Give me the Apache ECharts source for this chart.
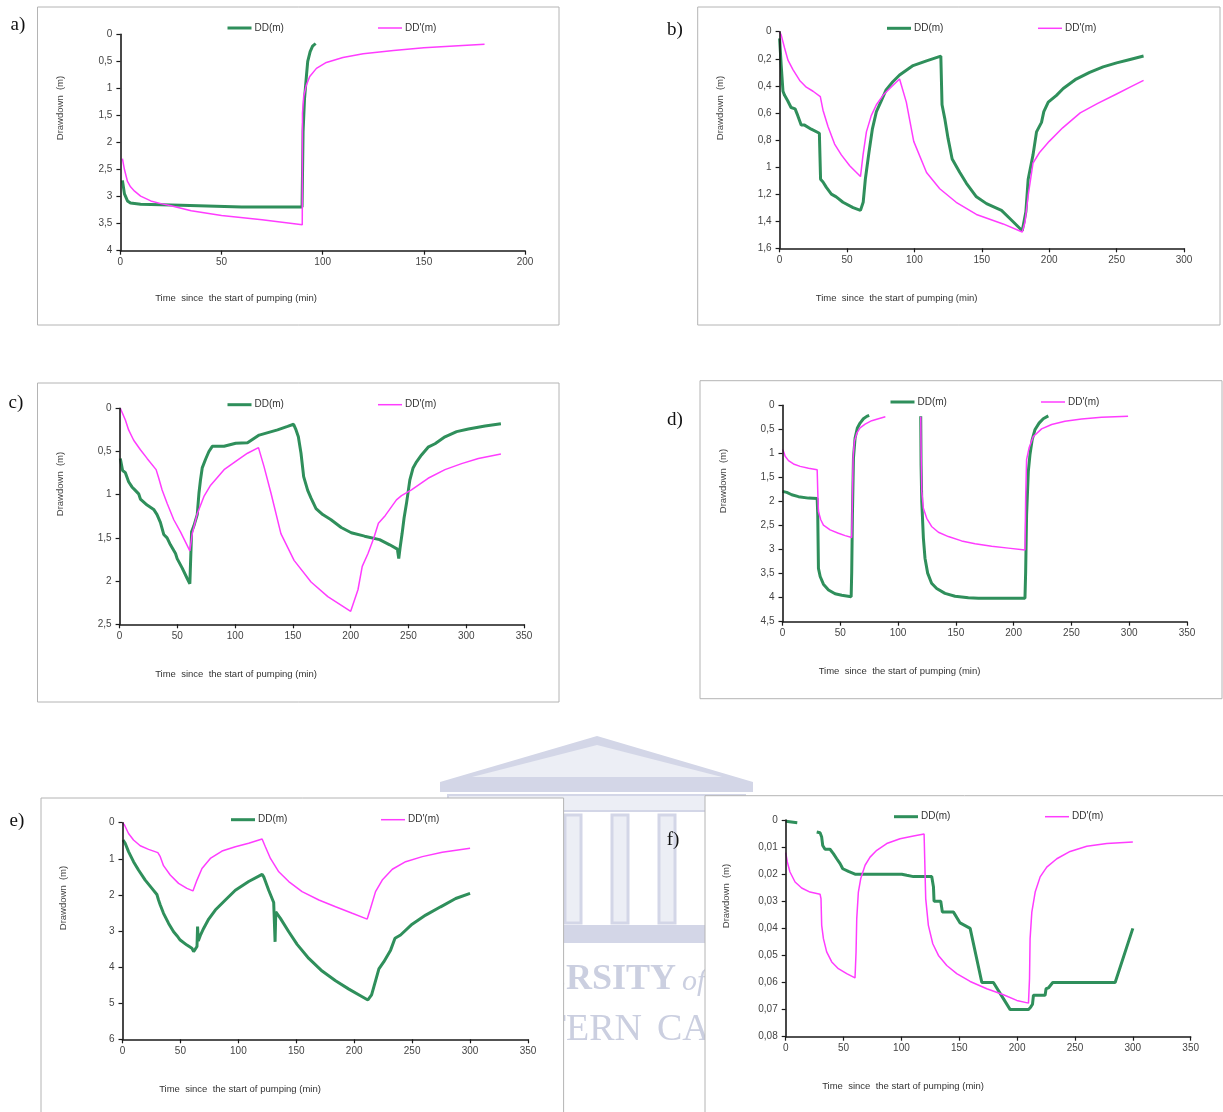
<!DOCTYPE html>
<html>
<head>
<meta charset="utf-8">
<script src="https://cdn.jsdelivr.net/npm/echarts@6/dist/echarts.min.js"></script>
<style>
html,body{margin:0;padding:0;background:#fff;}
#chart{width:1223px;height:1112px;}
</style>
</head>
<body>
<div id="chart"></div>
<script>
// ---------------- DATA ----------------
const seriesNames = ['DD(m)', "DD'(m)"];
const panelLetters = ['a)', 'b)', 'c)', 'd)', 'e)', 'f)'];
const xAxisMax = [200, 300, 350, 350, 350, 350];
const xAxisStep = [50, 50, 50, 50, 50, 50];
const yAxisMax = [4, 1.6, 2.5, 4.5, 6, 0.08];
const yAxisStep = [0.5, 0.2, 0.5, 0.5, 1, 0.01];
const yAxisTitle = 'Drawdown  (m)';
const xAxisTitle = 'Time  since  the start of pumping (min)';

const aDD = [[1,2.7],[2,2.95],[3.5,3.08],[5,3.12],[10,3.14],[30,3.16],[60,3.19],[89.8,3.19],[90.3,1.8],[91,1.2],[92,0.75],[92.6,0.5],[93.8,0.32],[95,0.22],[96.5,0.17]];
const aDDp = [[1,2.3],[2,2.5],[3.5,2.72],[5,2.82],[7,2.9],[10,2.99],[15,3.08],[20,3.13],[25,3.17],[35,3.26],[50,3.35],[70,3.43],[89.9,3.52],[90,1.46],[90.6,1.15],[91.9,0.94],[93.6,0.78],[96.9,0.63],[101.8,0.52],[110,0.43],[120,0.36],[135,0.3],[150,0.25],[167,0.21],[180,0.185]];

const bDD = [[0,0.05],[1.2,0.25],[2.5,0.44],[3.7,0.47],[6,0.51],[8.5,0.56],[11.5,0.57],[13.5,0.62],[16,0.69],[18.5,0.69],[23.5,0.72],[29.5,0.75],[30.4,1.09],[32.2,1.11],[34.7,1.15],[38.4,1.2],[42,1.22],[47,1.26],[54.5,1.3],[60,1.32],[62,1.26],[63.6,1.09],[66.3,0.89],[68.8,0.72],[71.8,0.59],[75,0.52],[79,0.43],[84,0.37],[89,0.32],[99,0.25],[109,0.215],[119.6,0.18],[120.5,0.54],[122.5,0.64],[125,0.79],[128,0.94],[133.7,1.04],[138.6,1.12],[146,1.22],[153.5,1.27],[164.6,1.32],[170.8,1.38],[180,1.47],[182.7,1.33],[184.4,1.09],[188,0.91],[190.6,0.74],[194.3,0.67],[196,0.59],[199.3,0.52],[205.4,0.47],[210.4,0.42],[220,0.35],[230,0.3],[240,0.26],[250,0.23],[260,0.205],[270,0.18]];
const bDDp = [[0,0],[1.2,0.025],[3.7,0.12],[6.2,0.21],[9.9,0.28],[14.9,0.36],[19.8,0.41],[24.8,0.44],[30.2,0.48],[32.2,0.58],[35.9,0.7],[40.8,0.83],[45.8,0.91],[52,0.99],[60,1.07],[61.9,0.91],[64.4,0.74],[68,0.62],[71.8,0.54],[76.7,0.47],[81.7,0.42],[89,0.35],[94,0.52],[99.5,0.81],[109,1.04],[118.8,1.16],[131,1.26],[146,1.35],[165.8,1.42],[180,1.48],[182,1.41],[184.4,1.21],[188,0.97],[193,0.89],[200,0.81],[210,0.71],[223,0.6],[236,0.53],[250,0.46],[260,0.41],[270,0.36]];

const cDD = [[0.6,0.58],[2,0.6],[2.6,0.72],[5,0.745],[7.8,0.85],[10.7,0.91],[13.6,0.95],[16.5,0.99],[18,1.05],[23.8,1.12],[29.5,1.17],[32.4,1.23],[35.3,1.32],[38.2,1.46],[41.1,1.5],[44,1.58],[48.4,1.68],[49.8,1.74],[54.2,1.85],[58.5,1.97],[60.8,2.03],[62,2.03],[62.3,1.43],[64.3,1.36],[67.2,1.23],[68.7,0.98],[70,0.83],[71.5,0.69],[74.4,0.59],[77.3,0.5],[80.2,0.44],[90.4,0.44],[100.5,0.405],[110.7,0.4],[120.8,0.31],[136.7,0.25],[145.4,0.21],[150.6,0.185],[152.7,0.25],[154.7,0.33],[157,0.52],[159.3,0.79],[162.8,0.95],[165.7,1.04],[170,1.16],[175.8,1.23],[183,1.29],[191.8,1.38],[200.5,1.44],[212,1.48],[225,1.52],[233.8,1.58],[240.4,1.63],[241.6,1.74],[242.7,1.62],[244.5,1.45],[246.2,1.27],[248.3,1.1],[251.2,0.83],[254,0.69],[257,0.62],[261.3,0.54],[267,0.45],[273,0.41],[281.6,0.33],[291.7,0.27],[301.9,0.24],[316.3,0.205],[330,0.18]];
const cDDp = [[0.6,0],[2,0.02],[5,0.135],[7.8,0.25],[12.2,0.37],[18,0.48],[23.8,0.58],[31.6,0.71],[33.9,0.81],[36.8,0.945],[41.1,1.1],[46.9,1.29],[52.7,1.43],[60.8,1.65],[62.9,1.45],[67.2,1.22],[73,1.02],[78.8,0.89],[90.4,0.71],[102,0.6],[110.7,0.52],[120.2,0.455],[125,0.675],[131,0.98],[139.6,1.45],[151,1.76],[165.7,2.01],[180.2,2.18],[200,2.35],[206.3,2.1],[210,1.83],[215,1.68],[220,1.5],[224,1.33],[230,1.24],[239.6,1.06],[244,1.01],[252.6,0.945],[267,0.81],[281.6,0.71],[296,0.64],[310.5,0.58],[330,0.53]];

const dDD = [[0,1.79],[3.7,1.81],[8,1.86],[13.8,1.9],[22.5,1.93],[30,1.94],[30.5,2.28],[31.1,3.39],[32.6,3.56],[35.4,3.72],[39.8,3.84],[45.5,3.92],[51.3,3.95],[59.4,3.98],[59.9,3.46],[60.5,2.28],[61.4,1.1],[62.8,0.68],[64.8,0.47],[67.1,0.37],[70,0.28],[72.9,0.23],[75,0.21],[100,'-'],[119.6,0.23],[119.9,1.24],[120.5,2.0],[121.9,2.76],[123.3,3.18],[125.6,3.49],[129,3.7],[133.4,3.81],[140.6,3.91],[149.3,3.97],[160.8,4.0],[169.5,4.01],[209.8,4.01],[210.4,3.46],[211.2,2.28],[212.7,1.375],[214.1,1.03],[216,0.72],[218.4,0.51],[222,0.37],[225.6,0.28],[230,0.22]];
const dDDp = [[0,0.92],[1.2,0.98],[2.3,1.06],[5.2,1.15],[9.5,1.22],[15.3,1.27],[22.5,1.31],[30,1.34],[30.5,1.79],[31.1,2.21],[33.1,2.38],[35.4,2.49],[41.2,2.59],[48.4,2.66],[54.2,2.71],[59.9,2.75],[60.5,1.93],[61.1,1.1],[62.2,0.75],[64.3,0.58],[67.1,0.47],[71.5,0.39],[77.2,0.32],[83,0.28],[89,0.24],[100,'-'],[119.6,0.24],[119.9,0.89],[120.5,1.79],[121.9,2.14],[124.8,2.35],[129,2.52],[134.9,2.64],[143.5,2.73],[155,2.82],[166.6,2.88],[181,2.93],[195.4,2.97],[209.8,3.01],[210.4,1.93],[211.2,1.13],[213.3,0.89],[217,0.65],[224.2,0.49],[232.9,0.4],[244.4,0.33],[258.8,0.285],[276,0.25],[299,0.23]];

const eDD = [[0.5,0.48],[2.3,0.57],[5.2,0.8],[9.5,1.08],[13.8,1.31],[19.6,1.59],[25.4,1.82],[29.7,1.99],[31.1,2.14],[32.6,2.28],[35.4,2.51],[39.8,2.79],[44.1,3.02],[47,3.13],[49.8,3.25],[55.6,3.39],[59.9,3.48],[61.4,3.57],[62.8,3.53],[64.3,3.43],[64.8,2.88],[65.4,3.28],[67.1,3.13],[70,2.93],[74.4,2.67],[80.1,2.42],[88.8,2.14],[97.4,1.87],[108.9,1.63],[120.5,1.43],[121.9,1.5],[126.2,1.87],[130.5,2.21],[131.7,3.3],[132.3,2.47],[133.4,2.47],[136.3,2.65],[143.5,3.02],[150.7,3.37],[160.8,3.76],[172.3,4.11],[183.9,4.38],[195.4,4.61],[206.9,4.82],[211.8,4.91],[215,4.77],[217,4.54],[221.3,4.05],[225.6,3.85],[231.4,3.53],[235.2,3.2],[240,3.11],[250,2.81],[261.7,2.56],[274.6,2.33],[287.6,2.1],[300,1.96]];
const eDDp = [[0,0],[1.7,0.065],[5.2,0.3],[9.5,0.48],[15.3,0.64],[22.5,0.74],[30.5,0.83],[32.6,0.94],[35.4,1.19],[41.2,1.45],[48.4,1.68],[55.6,1.82],[60.8,1.89],[64.3,1.59],[68.6,1.27],[75.8,0.99],[85.9,0.785],[97.4,0.665],[108.9,0.57],[120.5,0.45],[123.3,0.665],[127.7,0.99],[134.9,1.36],[143.5,1.63],[155,1.91],[169.5,2.14],[183.9,2.33],[198.3,2.51],[211.2,2.67],[214.1,2.37],[218.4,1.91],[224.2,1.59],[232.9,1.29],[244.4,1.08],[258.8,0.94],[276,0.82],[300,0.71]];

const fDD = [[0,0.0005],[1.5,0.001],[10,0.001],[18,'-'],[26.8,0.0044],[29.7,0.0047],[31.1,0.0063],[32,0.0094],[34,0.0108],[38.3,0.0108],[41.2,0.0124],[44.1,0.0143],[47,0.0161],[49.3,0.018],[54.2,0.019],[59.9,0.02],[100.3,0.02],[104.6,0.0204],[110.4,0.0209],[126.2,0.0209],[127.7,0.0247],[128.2,0.03],[134,0.03],[135.4,0.034],[145,0.034],[150.7,0.038],[159.4,0.04],[169.5,0.06],[179.5,0.06],[185.3,0.064],[194,0.07],[209.8,0.07],[211.8,0.069],[213.3,0.068],[214.1,0.0647],[224.2,0.0647],[225,0.0623],[227,0.062],[230.8,0.06],[284.7,0.06],[300,0.04]];
const fDDp = [[0,0.012],[1.4,0.0155],[3.7,0.0192],[8.1,0.0229],[13.8,0.0251],[21,0.0266],[29.7,0.0274],[30.5,0.029],[31.1,0.0389],[32.6,0.0438],[35.4,0.0487],[39.8,0.0524],[45.5,0.0549],[52.7,0.0567],[59.9,0.0583],[60.8,0.0487],[61.4,0.0364],[62.8,0.0266],[64.8,0.0217],[68.6,0.0167],[72.9,0.0137],[78.7,0.0112],[87.3,0.0087],[98.8,0.0069],[110.4,0.0059],[119.6,0.0052],[120.2,0.0155],[121,0.029],[123.3,0.0389],[127.1,0.0457],[132,0.05],[139.2,0.0537],[147.8,0.0567],[159.4,0.0596],[173.8,0.0623],[188.2,0.0645],[199.7,0.0666],[209.8,0.0676],[210.7,0.0586],[211.2,0.0438],[212.7,0.034],[215.6,0.0266],[219.9,0.021],[225.6,0.0174],[234.3,0.0143],[245.8,0.0116],[260.2,0.0097],[277.5,0.0087],[300,0.0081]];

const ddSeries = [aDD, bDD, cDD, dDD, eDD, fDD];
const ddpSeries = [aDDp, bDDp, cDDp, dDDp, eDDp, fDDp];

// ---------------- LAYOUT (pixels) ----------------
const GREEN = '#2f8f5b', PINK = '#ff3cff';
const FONT = 'Liberation Sans, Arial, sans-serif';
const SERIF = 'Liberation Serif, Times New Roman, serif';
const layout = [
  {box:[37.5,7,521.5,318],  grid:[120.4,34.3,404.6,216.4], letter:[18,25],  yT:[60,108],   xT:[236,298],   leg:[227.5,378,29]},
  {box:[697.7,7,522.3,318], grid:[779.6,31.7,404.4,216.6], letter:[675,30], yT:[720,108],  xT:[896.6,298], leg:[887,1038,29.3]},
  {box:[37.5,383,521.5,319],grid:[119.6,408.3,404.4,216],  letter:[16,403], yT:[60,484],   xT:[236,674],   leg:[227.5,378,405.7]},
  {box:[700,380.7,522,318], grid:[782.5,405.3,404.5,216.4],letter:[675,420],yT:[723,481],  xT:[899.5,671], leg:[890.5,1041,403]},
  {box:[41,798,522.6,340],  grid:[122.5,822.7,405.5,216.6],letter:[17,821], yT:[63.6,898], xT:[240,1089],  leg:[231,381,820.7]},
  {box:[705,795.7,540,340], grid:[785.7,820,405,216.7],    letter:[673,840],yT:[726.4,896],xT:[903,1086],  leg:[894,1045,817.7]}
];

const fmt = v => (v === 0 ? '0' : String(+v.toFixed(4)).replace('.', ','));

const grids = [], xAxes = [], yAxes = [], series = [], legends = [], graphics = [];

// watermark (faint logo)
const WM = '#d3d6e7', WM2 = '#eceef5', WMT = '#cbcfe0';
graphics.push(
  {type:'polygon', z:0, shape:{points:[[440,782],[597,736],[753,782]]}, style:{fill:WM}},
  {type:'polygon', z:0, shape:{points:[[472,777],[597,745],[722,777]]}, style:{fill:WM2}},
  {type:'rect', z:0, shape:{x:440,y:782,width:313,height:10}, style:{fill:WM}},
  {type:'rect', z:0, shape:{x:448,y:795,width:297,height:16}, style:{fill:WM2, stroke:WM, lineWidth:2}},
  {type:'rect', z:0, shape:{x:565,y:815,width:16,height:108}, style:{fill:WM2, stroke:WM, lineWidth:3}},
  {type:'rect', z:0, shape:{x:612,y:815,width:16,height:108}, style:{fill:WM2, stroke:WM, lineWidth:3}},
  {type:'rect', z:0, shape:{x:659,y:815,width:16,height:108}, style:{fill:WM2, stroke:WM, lineWidth:3}},
  {type:'rect', z:0, shape:{x:440,y:925,width:313,height:18}, style:{fill:WM}},
  {type:'text', z:0, x:676, y:980, style:{text:'UNIVERSITY', fill:WMT, font:'bold 36px ' + SERIF, textAlign:'right', textVerticalAlign:'middle'}},
  {type:'text', z:0, x:682, y:982, style:{text:'of the', fill:WMT, font:'italic 30px ' + SERIF, textAlign:'left', textVerticalAlign:'middle'}},
  {type:'text', z:0, x:642, y:1030, style:{text:'WESTERN', fill:WMT, font:'38px ' + SERIF, textAlign:'right', textVerticalAlign:'middle'}},
  {type:'text', z:0, x:657, y:1030, style:{text:'CAPE', fill:WMT, font:'38px ' + SERIF, textAlign:'left', textVerticalAlign:'middle'}}
);

layout.forEach((L, i) => {
  const [gx, gy, gw, gh] = L.grid;
  grids.push({left:gx, top:gy, width:gw, height:gh, containLabel:false});
  xAxes.push({
    gridIndex:i, type:'value', min:0, max:xAxisMax[i], interval:xAxisStep[i], z:3,
    axisLine:{show:true, onZero:false, lineStyle:{color:'#1a1a1a', width:1.6}},
    axisTick:{show:true, length:4, lineStyle:{color:'#1a1a1a', width:1.2}},
    axisLabel:{fontSize:10, color:'#444', fontFamily:FONT, margin:7},
    splitLine:{show:false}
  });
  yAxes.push({
    gridIndex:i, type:'value', inverse:true, min:0, max:yAxisMax[i], interval:yAxisStep[i], z:3,
    axisLine:{show:true, onZero:false, lineStyle:{color:'#1a1a1a', width:1.6}},
    axisTick:{show:true, length:4, lineStyle:{color:'#1a1a1a', width:1.2}},
    axisLabel:{fontSize:10, color:'#444', fontFamily:FONT, margin:8, formatter:fmt},
    splitLine:{show:false}
  });
  series.push({
    type:'line', name:seriesNames[0], xAxisIndex:i, yAxisIndex:i, data:ddSeries[i],
    symbol:'none', showSymbol:false, z:2, animation:false,
    lineStyle:{color:GREEN, width:3}, itemStyle:{color:GREEN}
  });
  series.push({
    type:'line', name:seriesNames[1], xAxisIndex:i, yAxisIndex:i, data:ddpSeries[i],
    symbol:'none', showSymbol:false, z:2, animation:false,
    lineStyle:{color:PINK, width:1.5}, itemStyle:{color:PINK}
  });
  const [lg, lp, ly] = L.leg;
  legends.push({data:[seriesNames[0]], left:lg, top:ly - 6, icon:'rect', itemWidth:24, itemHeight:3, itemGap:0, padding:0,
    selectedMode:false, textStyle:{fontSize:10, color:'#333', fontFamily:FONT, padding:[0,0,0,-2]}});
  legends.push({data:[seriesNames[1]], left:lp, top:ly - 6, icon:'rect', itemWidth:24, itemHeight:1.5, itemGap:0, padding:0,
    selectedMode:false, textStyle:{fontSize:10, color:'#333', fontFamily:FONT, padding:[0,0,0,-2]}});

  const [bx, by, bw, bh] = L.box;
  graphics.push({type:'rect', z:1, shape:{x:bx, y:by, width:bw, height:bh}, style:{fill:'#ffffff', stroke:'#b4b4b4', lineWidth:1}});
  graphics.push({type:'text', z:5, x:L.letter[0], y:L.letter[1], style:{text:panelLetters[i], fill:'#111', font:'19px ' + SERIF, textAlign:'center', textVerticalAlign:'middle'}});
  graphics.push({type:'text', z:5, x:L.yT[0], y:L.yT[1], rotation:Math.PI/2, style:{text:yAxisTitle, fill:'#444', font:'9.5px ' + FONT, textAlign:'center', textVerticalAlign:'middle'}});
  graphics.push({type:'text', z:5, x:L.xT[0], y:L.xT[1], style:{text:xAxisTitle, fill:'#333', font:'9.5px ' + FONT, textAlign:'center', textVerticalAlign:'middle'}});
});

const chart = echarts.init(document.getElementById('chart'), null, {renderer:'canvas'});
chart.setOption({
  animation:false,
  backgroundColor:'#ffffff',
  grid:grids, xAxis:xAxes, yAxis:yAxes, series:series, legend:legends,
  graphic:{elements:graphics}
});
</script>
</body>
</html>
